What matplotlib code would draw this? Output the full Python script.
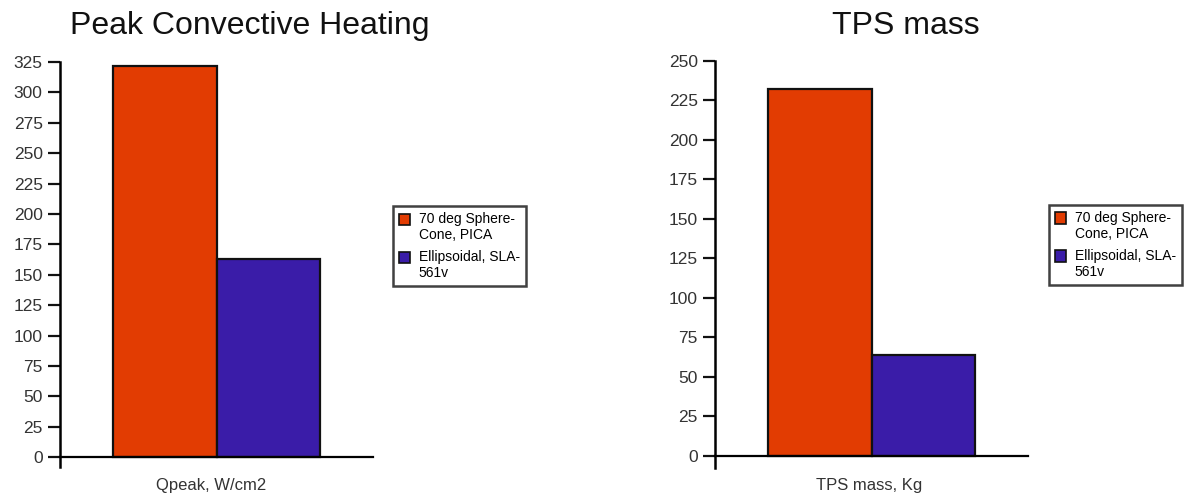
import matplotlib
matplotlib.use("Agg")
import matplotlib.pyplot as plt
from matplotlib.patches import Rectangle
from matplotlib.container import BarContainer
from matplotlib.legend_handler import HandlerBase

# Data
series_labels = ["70 deg Sphere-\nCone, PICA", "Ellipsoidal, SLA-\n561v"]
series_colors = ["#E23C02", "#3A1CA8"]

heating_values = [322, 163]     # W/cm2
mass_values = [232, 64]         # kg

heating_title = "Peak Convective Heating"
mass_title = "TPS mass"
heating_xlabel = "Qpeak, W/cm2"
mass_xlabel = "TPS mass, Kg"

heating_ticks = list(range(0, 326, 25))
mass_ticks = list(range(0, 251, 25))

plt.rcParams["font.family"] = ["Liberation Sans", "DejaVu Sans"]

W, H = 1187, 498
fig = plt.figure(figsize=(W / 100, H / 100), dpi=100)

bar_w = 0.33
offsets = [-bar_w / 2, bar_w / 2]
LEG_FS = 10
LEG_LS = 1.15


class TopSquareHandler(HandlerBase):
    """Square swatch aligned with the first line of a two-line label."""

    def create_artists(self, legend, orig_handle, xdescent, ydescent,
                       width, height, fontsize, trans):
        face = orig_handle.patches[0].get_facecolor()
        s = fontsize * 0.8
        top = fontsize * (LEG_LS + 0.22)
        p = Rectangle((-xdescent, top - s), s, s, facecolor=face,
                      edgecolor="#111111", linewidth=1.2, transform=trans)
        return [p]


def panel(rect, values, ticks, ylim_bottom, title, title_x, xlabel, xlabel_x, legend_anchor):
    ax = fig.add_axes(rect)
    for off, v, c, lab in zip(offsets, values, series_colors, series_labels):
        ax.bar(0 + off, v, width=bar_w, color=c, edgecolor="#111111",
               linewidth=1.6, label=lab, zorder=2)
    ax.set_xlim(-0.5, 0.5)
    ax.set_ylim(ylim_bottom, ticks[-1])
    ax.set_yticks(ticks)
    ax.set_xticks([])
    for s in ("top", "right"):
        ax.spines[s].set_visible(False)
    ax.spines["bottom"].set_position(("data", 0))
    ax.spines["bottom"].set_linewidth(1.6)
    ax.spines["left"].set_linewidth(1.8)
    ax.spines["left"].set_bounds(ylim_bottom, ticks[-1])
    ax.tick_params(axis="y", direction="out", length=8.5, width=1.6,
                   pad=4, labelsize=12.5, labelcolor="#333333", color="#111111")
    leg = ax.legend(loc="upper left", bbox_to_anchor=legend_anchor,
                    borderaxespad=0, fontsize=LEG_FS, frameon=True, fancybox=False,
                    handlelength=0.8, handleheight=0.7, handletextpad=0.6,
                    labelspacing=0.6, borderpad=0.45,
                    handler_map={BarContainer: TopSquareHandler()})
    for t in leg.get_texts():
        t.set_linespacing(LEG_LS)
    leg.get_frame().set_edgecolor("#111111")
    leg.get_frame().set_linewidth(1.8)
    fig.text(title_x, 1 - 34 / H, title, fontsize=23, ha="left",
             va="baseline", color="#111111")
    fig.text(xlabel_x, 1 - 490 / H, xlabel, fontsize=12, ha="center",
             va="baseline", color="#333333")
    return ax


panel([60 / W, (H - 467) / H, 313 / W, 405 / H], heating_values, heating_ticks,
      -8, heating_title, 70 / W, heating_xlabel, 211 / W, (1.064, 0.644))
panel([715 / W, (H - 467.5) / H, 313 / W, 406.5 / H], mass_values, mass_ticks,
      -7.5, mass_title, 832 / W, mass_xlabel, 869 / W, (1.067, 0.646))

fig.savefig("out.png", dpi=100)
